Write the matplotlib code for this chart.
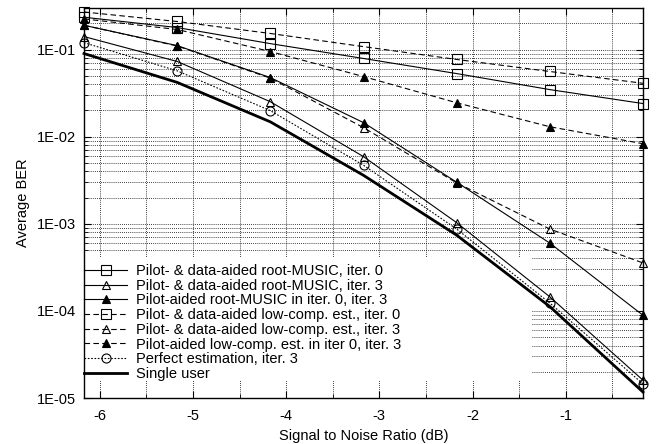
import math
import matplotlib
matplotlib.use("Agg")
import matplotlib.pyplot as plt
from matplotlib.ticker import FixedLocator, FuncFormatter, LogLocator, NullFormatter
from matplotlib.patches import Rectangle

plt.rcParams['font.family'] = ['Liberation Sans', 'DejaVu Sans']
plt.rcParams['font.size'] = 10.5

snr = [-6.17, -5.17, -4.17, -3.17, -2.17, -1.17, -0.17]

rm_iter0 = [0.235, 0.179, 0.117, 0.079, 0.053, 0.0347, 0.024]
rm_iter3 = [0.141, 0.073, 0.0252, 0.0059, 0.00103, 1.45e-4, 1.6e-5]
rm_pilot = [0.19, 0.111, 0.0477, 0.0145, 0.0030, 6.0e-4, 8.9e-5]
lc_iter0 = [0.27, 0.21, 0.153, 0.108, 0.077, 0.056, 0.041]
lc_iter3 = [0.19, 0.11, 0.047, 0.0127, 0.00295, 8.7e-4, 3.55e-4]
lc_pilot = [0.225, 0.17, 0.095, 0.049, 0.0245, 0.013, 0.0083]
perfect = [0.12, 0.057, 0.0199, 0.0047, 8.7e-4, 1.23e-4, 1.45e-5]
single = [0.09, 0.042, 0.0148, 0.0036, 7.4e-4, 1.12e-4, 1.17e-5]

labels = [
    "Pilot- & data-aided root-MUSIC, iter. 0",
    "Pilot- & data-aided root-MUSIC, iter. 3",
    "Pilot-aided root-MUSIC in iter. 0, iter. 3",
    "Pilot- & data-aided low-comp. est., iter. 0",
    "Pilot- & data-aided low-comp. est., iter. 3",
    "Pilot-aided low-comp. est. in iter 0, iter. 3",
    "Perfect estimation, iter. 3",
    "Single user",
]
xticks = [-6, -5, -4, -3, -2, -1]

fig = plt.figure(figsize=(6.56, 4.44), dpi=100)
ax = fig.add_axes([84/656, 1-398/444, (643-84)/656, (398-8)/444])

dash = (0, (5, 3))
dot = (0, (1.5, 1.5))
common = dict(color='black', clip_on=False, zorder=3)
ax.plot(snr, rm_iter0, linestyle='-', lw=0.8, marker='s', mfc='none', ms=6.5, mew=0.8, label=labels[0], **common)
ax.plot(snr, rm_iter3, linestyle='-', lw=0.8, marker='^', mfc='none', ms=6, mew=0.8, label=labels[1], **common)
ax.plot(snr, rm_pilot, linestyle='-', lw=0.8, marker='^', mfc='black', ms=6, mew=0.8, label=labels[2], **common)
ax.plot(snr, lc_iter0, linestyle=dash, lw=0.8, marker='s', mfc='none', ms=6.5, mew=0.8, label=labels[3], **common)
ax.plot(snr, lc_iter3, linestyle=dash, lw=0.8, marker='^', mfc='none', ms=6, mew=0.8, label=labels[4], **common)
ax.plot(snr, lc_pilot, linestyle=dash, lw=0.8, marker='^', mfc='black', ms=6, mew=0.8, label=labels[5], **common)
ax.plot(snr, perfect, linestyle=dot, lw=0.8, marker='o', mfc='none', ms=6.5, mew=0.8, label=labels[6], **common)
ax.plot(snr, single, linestyle='-', lw=2.0, label=labels[7], **common)

ax.set_yscale('log')
ax.set_xlim(-6.17, -0.17)
ax.set_ylim(1e-5, 0.3)

ax.xaxis.set_major_locator(FixedLocator(xticks))
ax.xaxis.set_minor_locator(FixedLocator([t + 0.5 for t in xticks] + [-6.5]))
ax.yaxis.set_major_locator(LogLocator(base=10, numticks=10))
ax.yaxis.set_minor_locator(LogLocator(base=10, subs=range(2, 10), numticks=20))
ax.yaxis.set_minor_formatter(NullFormatter())
ax.yaxis.set_major_formatter(FuncFormatter(lambda v, p: "1E-%02d" % round(-math.log10(v))))
ax.xaxis.set_major_formatter(FuncFormatter(lambda v, p: "%d" % v))

ax.tick_params(which='both', direction='in', top=True, right=True, labelsize=10.5)
ax.tick_params(which='major', length=5, width=0.8)
ax.tick_params(which='minor', length=3, width=0.6)
ax.tick_params(axis='x', pad=8)
ax.tick_params(axis='y', pad=6)

ax.set_axisbelow(True)
ax.grid(True, which='both', color='black', linestyle=(0, (1, 1.5)), lw=0.6)
for s in ax.spines.values():
    s.set_linewidth(1.0)

ax.add_patch(Rectangle((0.0, 18/390), (532-84)/559, (380-257)/390, transform=ax.transAxes,
                       facecolor='white', edgecolor='none', zorder=1))

leg = ax.legend(loc='lower left', bbox_to_anchor=(0.0, 17/390), frameon=False, fontsize=10.5,
                handlelength=2.95, handletextpad=0.6, labelspacing=0.05, borderpad=0, borderaxespad=0)

ax.set_xlabel("Signal to Noise Ratio (dB)", fontsize=10.5, labelpad=4)
ax.set_ylabel("Average BER", fontsize=10.5, labelpad=5)

fig.savefig("out.png", dpi=100)
